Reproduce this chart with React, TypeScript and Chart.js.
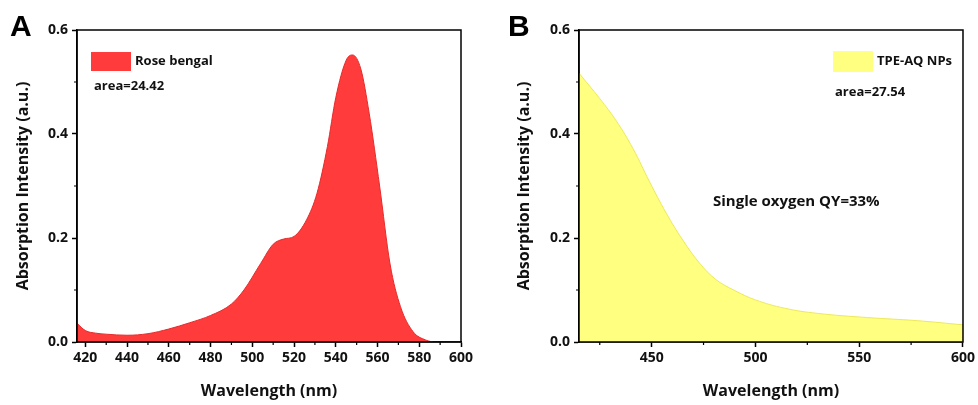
import React, { useEffect, useRef } from "react";
import { Chart, registerables } from "chart.js";

Chart.register(...registerables);

// Panel A: Rose bengal absorption
const rbWavelength = [416, 420, 425, 430, 440, 450, 460, 470, 480, 490, 496, 504, 510, 515, 520, 526, 531, 536, 540, 545, 548, 552, 556, 561, 566, 571, 577, 583, 588, 600];
const rbAbsorbance = [0.036, 0.022, 0.017, 0.015, 0.013, 0.016, 0.025, 0.037, 0.051, 0.073, 0.1, 0.151, 0.188, 0.198, 0.203, 0.235, 0.286, 0.376, 0.47, 0.542, 0.552, 0.525, 0.44, 0.3, 0.15, 0.068, 0.02, 0.004, 0, 0];

// Panel B: TPE-AQ NPs absorption
const tpeWavelength = [415, 425, 433, 441, 449, 457, 465, 473, 481, 490, 500, 514, 530, 554, 578, 600];
const tpeAbsorbance = [0.517, 0.468, 0.425, 0.372, 0.308, 0.248, 0.196, 0.152, 0.12, 0.099, 0.081, 0.065, 0.055, 0.047, 0.041, 0.033];

const aXTicks = [420, 440, 460, 480, 500, 520, 540, 560, 580, 600];
const aXMinor = [430, 450, 470, 490, 510, 530, 550, 570, 590];
const bXTicks = [450, 500, 550, 600];
const bXMinor = [425, 475, 525, 575];
const yTicks = [0, 0.2, 0.4, 0.6];
const yMinor = [0.1, 0.3, 0.5];

const FONT = '"Open Sans", sans-serif';

type PanelSpec = {
  letter: string;
  letterX: number;
  xs: number[];
  ys: number[];
  xMin: number;
  xTicks: number[];
  xMinor: number[];
  fill: string;
  border: string;
  monotone: boolean;
  legendLabel: string;
  areaText: string;
  legendBox: [number, number, number, number];
  legendTextX: number;
  areaX: number;
  areaY: number;
  note?: string;
  noteX?: number;
  noteY?: number;
  yAxisWidth: number;
  yTitlePad: number;
  padRight: number;
};

function Panel({ spec }: { spec: PanelSpec }) {
  const ref = useRef<HTMLCanvasElement | null>(null);
  useEffect(() => {
    if (!ref.current) return;
    const overlay = {
      id: "overlay",
      afterDraw(chart: any) {
        const ctx = chart.ctx;
        const ca = chart.chartArea;
        const xs = chart.scales.x;
        const ys = chart.scales.y;
        ctx.save();
        // frame
        ctx.strokeStyle = "#000";
        ctx.lineWidth = 1.5;
        ctx.strokeRect(ca.left, ca.top, ca.right - ca.left, ca.bottom - ca.top);
        // minor ticks
        ctx.lineWidth = 1.2;
        ctx.beginPath();
        spec.xMinor.forEach((v) => {
          const px = xs.getPixelForValue(v);
          ctx.moveTo(px, ca.bottom);
          ctx.lineTo(px, ca.bottom + 3);
        });
        yMinor.forEach((v) => {
          const py = ys.getPixelForValue(v);
          ctx.moveTo(ca.left, py);
          ctx.lineTo(ca.left - 3, py);
        });
        ctx.stroke();
        // panel letter
        ctx.fillStyle = "#000";
        ctx.font = 'bold 30px "Liberation Sans", Arial, sans-serif';
        ctx.textBaseline = "alphabetic";
        ctx.textAlign = "left";
        ctx.fillText(spec.letter, spec.letterX, 36);
        // legend
        const [bx, by, bw, bh] = spec.legendBox;
        ctx.fillStyle = spec.fill;
        ctx.fillRect(bx, by, bw, bh);
        ctx.fillStyle = "#111";
        ctx.font = `bold 13px ${FONT}`;
        ctx.textBaseline = "middle";
        ctx.fillText(spec.legendLabel, spec.legendTextX, by + bh / 2);
        ctx.fillText(spec.areaText, spec.areaX, spec.areaY);
        if (spec.note) {
          ctx.font = `bold 15px ${FONT}`;
          ctx.fillText(spec.note, spec.noteX!, spec.noteY!);
        }
        ctx.restore();
      },
    };
    const chart = new Chart(ref.current, {
      type: "line",
      data: {
        datasets: [
          {
            data: spec.xs.map((x, i) => ({ x, y: spec.ys[i] })),
            backgroundColor: spec.fill,
            borderColor: spec.border,
            borderWidth: 1,
            fill: "origin",
            pointRadius: 0,
            tension: 0.4,
            cubicInterpolationMode: spec.monotone ? "monotone" : "default",
          },
        ],
      },
      options: {
        animation: false,
        responsive: false,
        devicePixelRatio: 1,
        layout: { padding: { top: 30, right: spec.padRight, bottom: 0, left: 0 } },
        plugins: { legend: { display: false }, tooltip: { enabled: false } },
        scales: {
          x: {
            type: "linear",
            min: spec.xMin,
            max: 600,
            afterBuildTicks: (s: any) => {
              s.ticks = spec.xTicks.map((v) => ({ value: v }));
            },
            afterFit: (s: any) => {
              s.height = 63;
            },
            grid: { drawOnChartArea: false, drawTicks: true, tickLength: 5, tickColor: "#000", tickWidth: 1.5 },
            border: { display: true, color: "#000", width: 1.5 },
            ticks: { color: "#111", font: { family: FONT, size: 14, weight: "bold" }, padding: 3, maxRotation: 0, autoSkip: false },
            title: { display: true, text: "Wavelength (nm)", color: "#111", font: { family: FONT, size: 16, weight: "bold" }, padding: { top: 0, bottom: 4 } },
          },
          y: {
            type: "linear",
            min: 0,
            max: 0.6,
            afterBuildTicks: (s: any) => {
              s.ticks = yTicks.map((v) => ({ value: v }));
            },
            afterFit: (s: any) => {
              s.width = spec.yAxisWidth;
            },
            grid: { drawOnChartArea: false, drawTicks: true, tickLength: 5, tickColor: "#000", tickWidth: 1.5 },
            border: { display: true, color: "#000", width: 1.5 },
            ticks: { color: "#111", font: { family: FONT, size: 14, weight: "bold" }, padding: 4, callback: (v: any) => Number(v).toFixed(1) },
            title: { display: true, text: "Absorption Intensity (a.u.)", color: "#111", font: { family: FONT, size: 16, weight: "bold" }, padding: { top: spec.yTitlePad, bottom: 0 } },
          },
        },
      } as any,
      plugins: [overlay],
    });
    return () => chart.destroy();
  }, [spec]);
  return <canvas ref={ref} width={489} height={405} style={{ display: "block" }} />;
}

const specA: PanelSpec = {
  letter: "A",
  letterX: 10,
  xs: rbWavelength,
  ys: rbAbsorbance,
  xMin: 416,
  xTicks: aXTicks,
  xMinor: aXMinor,
  fill: "#FF3B3B",
  border: "#E52A2A",
  monotone: true,
  legendLabel: "Rose bengal",
  areaText: "area=24.42",
  legendBox: [91, 52, 40, 19],
  legendTextX: 135,
  areaX: 94,
  areaY: 86,
  yAxisWidth: 77,
  yTitlePad: 14,
  padRight: 28,
};

const specB: PanelSpec = {
  letter: "B",
  letterX: 19,
  xs: tpeWavelength,
  ys: tpeAbsorbance,
  xMin: 415,
  xTicks: bXTicks,
  xMinor: bXMinor,
  fill: "#FFFF80",
  border: "#EDE85A",
  monotone: false,
  legendLabel: "TPE-AQ NPs",
  areaText: "area=27.54",
  legendBox: [344, 51, 40, 21],
  legendTextX: 388,
  areaX: 346,
  areaY: 92,
  note: "Single oxygen QY=33%",
  noteX: 224,
  noteY: 202,
  yAxisWidth: 90,
  yTitlePad: 26,
  padRight: 15,
};

export default function App() {
  return (
    <div style={{ position: "absolute", left: 0, top: 0, width: 978, height: 405, display: "flex", background: "#fff" }}>
      <Panel spec={specA} />
      <Panel spec={specB} />
    </div>
  );
}
